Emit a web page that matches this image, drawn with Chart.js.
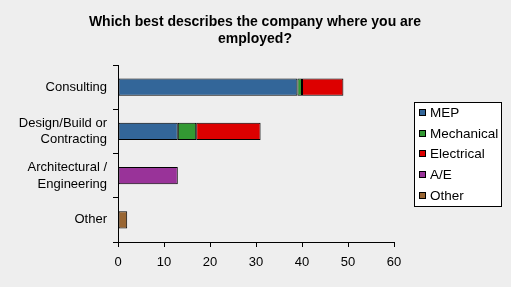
<!DOCTYPE html>
<html>
<head>
<meta charset="utf-8">
<script src="https://cdn.jsdelivr.net/npm/chart.js@4"></script>
<style>
  html, body { margin: 0; padding: 0; background: #eeeeee; }
  canvas { display: block; }
</style>
</head>
<body>
<canvas id="companyChart" width="511" height="287"></canvas>
<script>
// Survey answers (counts)
const categories = ['Consulting', ['Design/Build or', 'Contracting'], ['Architectural /', 'Engineering'], 'Other'];
const mepValues = [39, 13, null, null];
const mechanicalValues = [1, 4, null, null];
const electricalValues = [9, 14, null, null];
const aeValues = [null, null, 13, null];
const otherValues = [null, null, null, 2];
const xTicks = [0, 10, 20, 30, 40, 50, 60];
const titleLines = ['Which best describes the company where you are', 'employed?'];

const FONT = '"Liberation Sans", Arial, sans-serif';

// title centred on the whole canvas + legend in a white box
const boxLegend = {
  id: 'boxLegend',
  afterDraw(chart) {
    const ctx = chart.ctx;
    const sets = chart.data.datasets;
    ctx.save();
    ctx.fillStyle = '#000000';
    ctx.font = 'bold 14px ' + FONT;
    ctx.textAlign = 'center';
    ctx.textBaseline = 'middle';
    titleLines.forEach((line, i) => ctx.fillText(line, 255, 22 + i * 17));

    ctx.textAlign = 'left';
    ctx.fillStyle = '#ffffff';
    ctx.fillRect(414, 102, 87, 104);
    ctx.strokeStyle = '#000000';
    ctx.lineWidth = 1;
    ctx.strokeRect(414.5, 102.5, 87, 104);
    ctx.font = '13.5px ' + FONT;
    sets.forEach((ds, i) => {
      const y = Math.round(113 + i * 20.7);
      ctx.fillStyle = ds.backgroundColor;
      ctx.fillRect(419, y - 4, 7, 7);
      ctx.strokeStyle = '#000000';
      ctx.strokeRect(419.5, y - 3.5, 6, 6);
      ctx.fillStyle = '#000000';
      ctx.fillText(ds.label, 430, y + 0.5);
    });
    ctx.restore();
  }
};

function makeSet(label, data, color) {
  return {
    label: label,
    data: data,
    backgroundColor: color,
    borderColor: '#000000',
    borderWidth: 1,
    borderSkipped: false,
    categoryPercentage: 1,
    barPercentage: 0.385
  };
}

const ctx = document.getElementById('companyChart').getContext('2d');
new Chart(ctx, {
  type: 'bar',
  data: {
    labels: categories,
    datasets: [
      makeSet('MEP', mepValues, '#336699'),
      makeSet('Mechanical', mechanicalValues, '#339933'),
      makeSet('Electrical', electricalValues, '#dd0000'),
      makeSet('A/E', aeValues, '#993399'),
      makeSet('Other', otherValues, '#996633')
    ]
  },
  options: {
    indexAxis: 'y',
    responsive: false,
    animation: false,
    layout: { padding: { top: 65, right: 117, bottom: 0, left: 0 } },
    scales: {
      x: {
        stacked: true,
        min: 0,
        max: 60,
        afterBuildTicks: (scale) => { scale.ticks = xTicks.map(v => ({ value: v })); },
        afterFit: (scale) => { scale.height = 45; },
        border: { display: true, color: '#000000', width: 1 },
        grid: { display: true, drawOnChartArea: false, drawTicks: true, tickLength: 5, color: '#000000' },
        ticks: { color: '#000000', font: { family: FONT, size: 13 }, padding: 8, maxRotation: 0 }
      },
      y: {
        stacked: true,
        afterFit: (scale) => { scale.width = 118; },
        border: { display: true, color: '#000000', width: 1 },
        grid: { display: true, drawOnChartArea: false, drawTicks: true, tickLength: 5, color: '#000000', offset: true },
        ticks: { color: '#000000', font: { family: FONT, size: 13, lineHeight: 1.3 }, padding: 6 }
      }
    },
    plugins: {
      legend: { display: false },
      tooltip: { enabled: false },
      title: { display: false }
    }
  },
  plugins: [boxLegend]
});
</script>
</body>
</html>
